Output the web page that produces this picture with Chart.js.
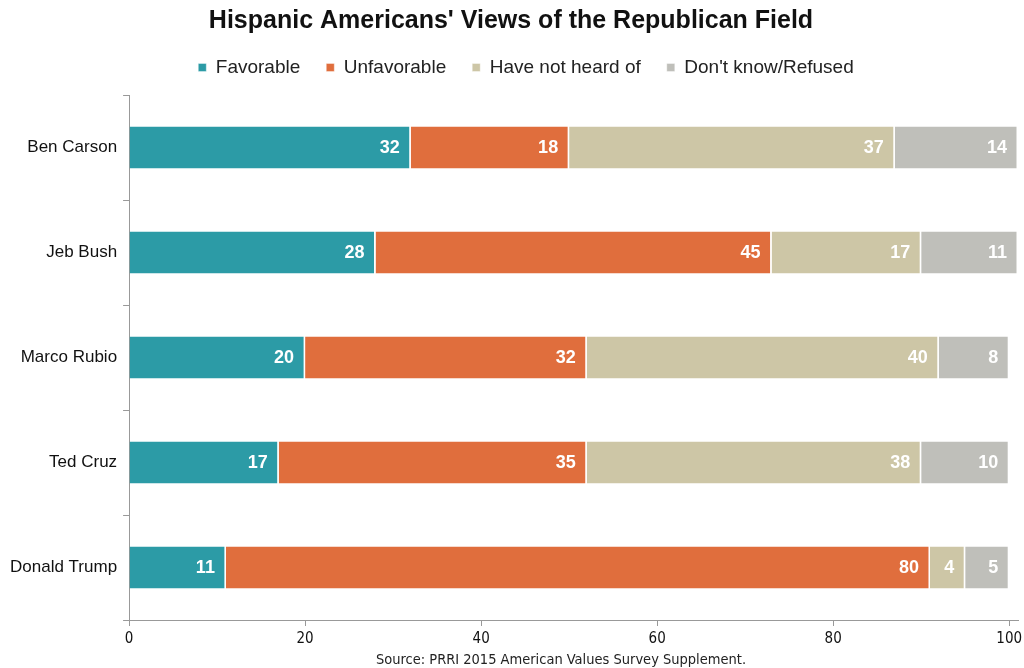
<!DOCTYPE html>
<html>
<head>
<meta charset="utf-8">
<script src="https://cdn.jsdelivr.net/npm/chart.js@4.4.1/dist/chart.umd.min.js"></script>
<style>
  body { margin: 0; background: #fff; }
  #wrap { width: 1024px; height: 668px; position: relative; }
</style>
</head>
<body>
<div id="wrap"><canvas id="grafico"></canvas></div>
<script>
// dados
let candidatos = ["Ben Carson", "Jeb Bush", "Marco Rubio", "Ted Cruz", "Donald Trump"];
let favoravel = [32, 28, 20, 17, 11];
let desfavoravel = [18, 45, 32, 35, 80];
let naoOuviu = [37, 17, 40, 38, 4];
let naoSabe = [14, 11, 8, 10, 5];
let ticksX = [0, 20, 40, 60, 80, 100];

let fonteNormal = "'Liberation Sans', Arial, Helvetica, sans-serif";
let fonteEstreita = "'Liberation Sans Narrow', 'DejaVu Sans Condensed', 'Liberation Sans', Arial, sans-serif";

// rótulos brancos dentro das barras
const rotulos = {
  id: "rotulos",
  afterDatasetsDraw(chart) {
    let ctx = chart.ctx;
    ctx.save();
    ctx.fillStyle = "#fff";
    ctx.font = "bold 18px " + fonteNormal;
    ctx.textAlign = "right";
    ctx.textBaseline = "middle";
    chart.data.datasets.forEach((ds, i) => {
      chart.getDatasetMeta(i).data.forEach((bar, j) => {
        ctx.fillText(ds.data[j], bar.x - 11, bar.y + 1);
      });
    });
    ctx.restore();
  }
};

// fonte no rodapé
const fonte = {
  id: "fonte",
  afterDraw(chart) {
    let ctx = chart.ctx;
    ctx.save();
    ctx.fillStyle = "#222";
    ctx.font = "14.5px " + fonteEstreita;
    ctx.textAlign = "center";
    ctx.textBaseline = "middle";
    ctx.fillText("Source: PRRI 2015 American Values Survey Supplement.", 561, 660);
    ctx.restore();
  }
};

// legenda: altura ajustada e deslocada (direita / para cima)
const ajusteLegenda = {
  id: "ajusteLegenda",
  afterInit(chart) {
    let lg = chart.legend;
    let fitOriginal = lg.fit.bind(lg);
    lg.fit = function () {
      fitOriginal();
      this.height -= 2;
    };
  },
  afterLayout(chart) {
    chart.legend.left += 15;
    chart.legend.right += 15;
    chart.legend.top -= 10;
    chart.legend.bottom -= 10;
  }
};

let ctx = document.getElementById("grafico").getContext("2d");

let grafico = new Chart(ctx, {
  type: "bar",
  data: {
    labels: candidatos,
    datasets: [
      { label: "Favorable", data: favoravel, backgroundColor: "#2c9ba6" },
      { label: "Unfavorable", data: desfavoravel, backgroundColor: "#e06e3d" },
      { label: "Have not heard of", data: naoOuviu, backgroundColor: "#cdc6a6" },
      { label: "Don't know/Refused", data: naoSabe, backgroundColor: "#bfbfba" }
    ].map(d => Object.assign(d, {
      borderColor: "#fff",
      borderWidth: { left: 0, right: 1.5, top: 0, bottom: 0 },
      borderSkipped: false,
      barPercentage: 0.4,
      categoryPercentage: 1
    }))
  },
  options: {
    indexAxis: "y",
    responsive: true,
    maintainAspectRatio: false,
    animation: false,
    layout: { padding: { left: 4, right: 6, top: 4, bottom: 16 } },
    plugins: {
      title: {
        display: true,
        text: "Hispanic Americans' Views of the Republican Field",
        color: "#111",
        font: { family: fonteNormal, size: 25, weight: "bold" },
        padding: { top: 2, bottom: 6 }
      },
      legend: {
        display: true,
        labels: {
          color: "#222",
          font: { family: fonteNormal, size: 19 },
          boxWidth: 8,
          boxHeight: 8,
          padding: 26
        }
      },
      tooltip: { enabled: false }
    },
    scales: {
      x: {
        stacked: true,
        min: 0,
        max: 101,
        afterBuildTicks: axis => { axis.ticks = ticksX.map(v => ({ value: v })); },
        afterFit: axis => { axis.paddingRight = 0; },
        grid: { drawOnChartArea: false, tickLength: 6, color: "#999" },
        border: { color: "#999" },
        ticks: { color: "#111", font: { family: fonteEstreita, size: 15 }, padding: 4 }
      },
      y: {
        stacked: true,
        grid: { offset: true, drawOnChartArea: false, tickLength: 6, color: "#999" },
        border: { color: "#999" },
        ticks: { color: "#111", font: { family: fonteNormal, size: 17 }, padding: 6 }
      }
    }
  },
  plugins: [rotulos, fonte, ajusteLegenda]
});
</script>
</body>
</html>
